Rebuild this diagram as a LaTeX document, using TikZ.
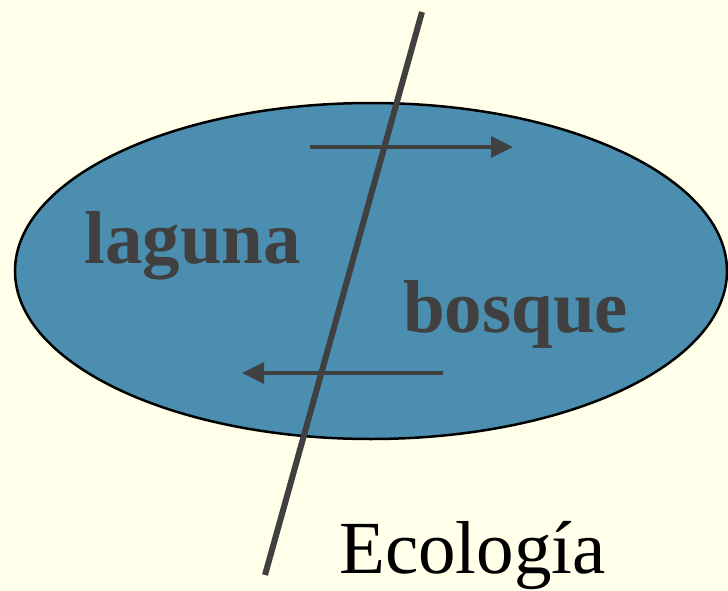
\documentclass[tikz,border=0pt]{standalone}
\usepackage{fontspec}
\setmainfont{Liberation Serif}
\usetikzlibrary{arrows.meta}
\definecolor{bg}{RGB}{255,255,234}
\definecolor{lake}{RGB}{75,142,175}
\definecolor{ink}{RGB}{64,64,64}
\tikzset{
  lbl/.style={anchor=base west,inner sep=0pt,font=\fontsize{75}{90}\selectfont},
  flow/.style={draw=ink,line width=3.5pt,-{Triangle[length=22pt,width=21pt]}},
}
\begin{document}
\begin{tikzpicture}[x=1pt,y=-1pt]
\fill[bg] (0,0) rectangle (728,591);
\useasboundingbox (0,0) rectangle (728,591);
\draw[fill=lake,line width=2.5pt] (371,271) ellipse [x radius=356,y radius=168];
\node[lbl,text=ink,font=\fontsize{75}{90}\selectfont\bfseries] (laguna) at (84,263) {laguna};
\node[lbl,text=ink,font=\fontsize{75}{90}\selectfont\bfseries] (bosque) at (403,332) {bosque};
\node[lbl,text=black] (eco) at (339,573) {Ecología};
\coordinate (t1) at (310,147);
\coordinate (t2) at (513,147);
\coordinate (b1) at (443,373);
\coordinate (b2) at (242,373);
\draw[flow] (t1) -- (t2);
\draw[flow] (b1) -- (b2);
\coordinate (ltop) at (422,12);
\coordinate (lbot) at (265,575);
\draw[ink,line width=6pt] (ltop) -- (lbot);
\end{tikzpicture}
\end{document}
